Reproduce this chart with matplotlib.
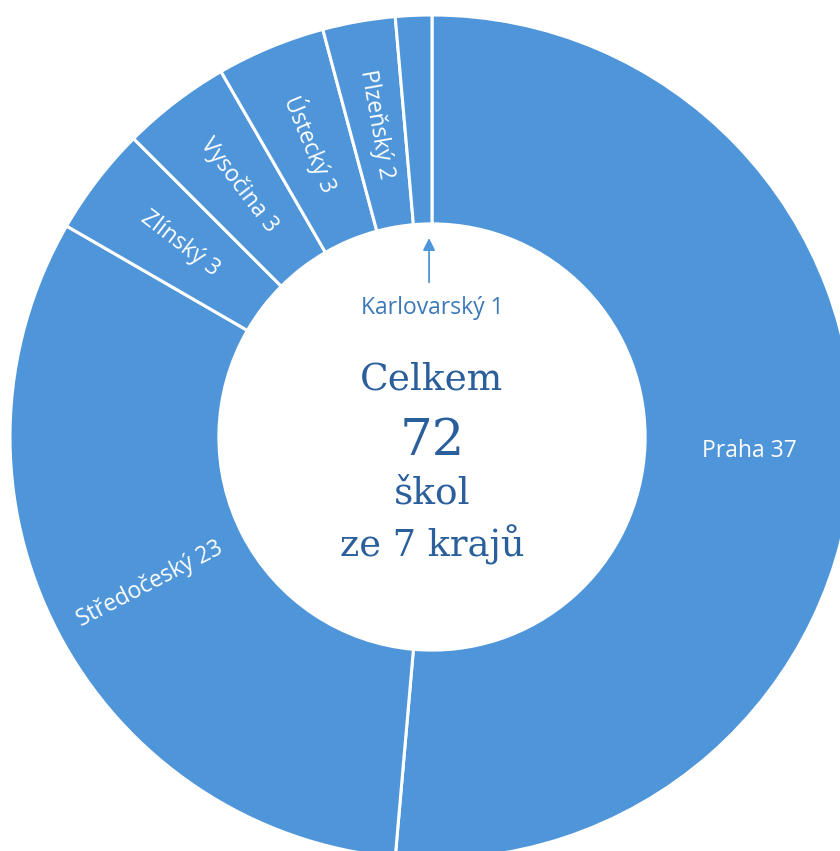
import numpy as np
import matplotlib.pyplot as plt

kraje = ['Praha', 'Středočeský', 'Zlínský', 'Vysočina', 'Ústecký', 'Plzeňský', 'Karlovarský']
skoly = [37, 23, 3, 3, 3, 2, 1]

blue = '#4f95d9'
dark = '#2b5f9c'

fig = plt.figure(figsize=(8.4, 8.51), dpi=100)
# center of the ring sits at (432, 437) px, outer radius 422 px
ax = fig.add_axes([10 / 840, -8 / 851, 844 / 840, 844 / 851])

wedges, _ = ax.pie(skoly, startangle=90, counterclock=False, radius=1,
                   colors=[blue] * len(skoly),
                   wedgeprops=dict(width=0.495, edgecolor='white', linewidth=2.2))
ax.set_xlim(-1, 1)
ax.set_ylim(-1, 1)
ax.axis('off')

r_lab = (1 + 0.505) / 2
for w, name, n in zip(wedges, kraje, skoly):
    if name == 'Karlovarský':
        continue
    ang = (w.theta1 + w.theta2) / 2
    x = r_lab * np.cos(np.radians(ang))
    y = r_lab * np.sin(np.radians(ang))
    rot = ang if np.cos(np.radians(ang)) >= 0 else ang - 180
    rot = (rot + 180) % 360 - 180
    if abs(rot) < 5:
        rot = 0
    ax.text(x, y, f'{name} {n}', rotation=rot, rotation_mode='anchor',
            ha='center', va='center', color='white', fontsize=16.5,
            family='Open Sans')

# Karlovarsky 1 - too small for a label inside
ax.annotate('', xy=(-0.007, 0.478), xytext=(-0.007, 0.36),
            arrowprops=dict(arrowstyle='-|>', color=blue, lw=1.3,
                            mutation_scale=18))
ax.text(0, 0.306, f'{kraje[-1]} {skoly[-1]}', ha='center', va='center',
        color='#3b78b8', fontsize=16.5, family='Open Sans')

# middle
ax.text(0, 0.137, 'Celkem', ha='center', va='center', color=dark,
        fontsize=27, family='DejaVu Serif')
ax.text(0, -0.01, f'{sum(skoly)}', ha='center', va='center', color=dark,
        fontsize=37, family='DejaVu Serif')
ax.text(0, -0.135, 'škol', ha='center', va='center', color=dark,
        fontsize=27, family='DejaVu Serif')
ax.text(0, -0.255, f'ze {len(kraje)} krajů', ha='center', va='center', color=dark,
        fontsize=26.5, family='DejaVu Serif')

fig.savefig('out.png', dpi=100)
